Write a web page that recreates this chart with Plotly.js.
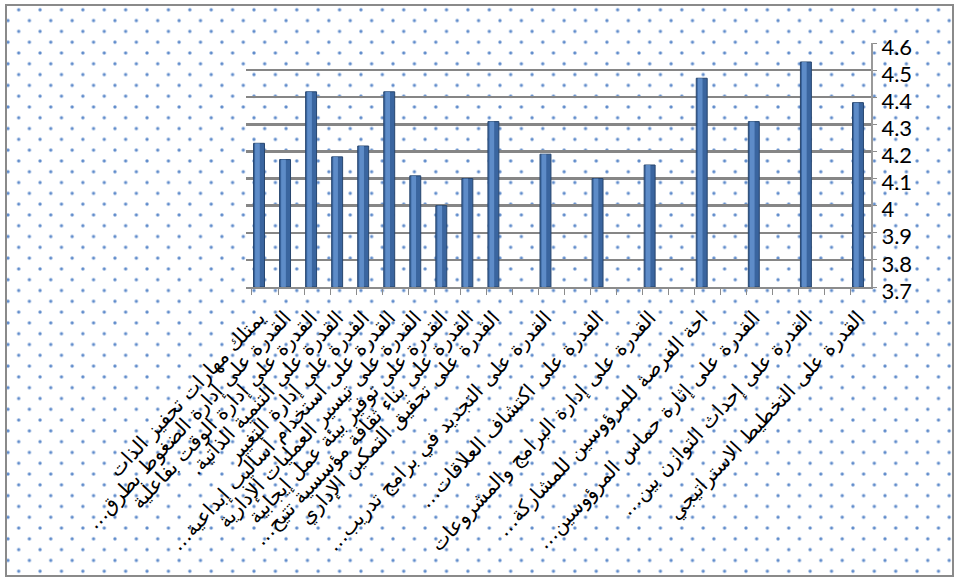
<!DOCTYPE html>
<html>
<head>
<meta charset="utf-8">
<script src="https://cdn.plot.ly/plotly-3.0.1.min.js"></script>
<style>
  html, body { margin: 0; padding: 0; background: #ffffff; }
  #frame {
    position: absolute; left: 5px; top: 4px; width: 949px; height: 573px;
    border: 2px solid #8a8a8a; box-sizing: border-box;
    background-image:
      radial-gradient(circle, rgba(74,124,196,0.95) 0px, rgba(74,124,196,0.85) 1px, rgba(74,124,196,0) 2.2px),
      radial-gradient(circle, rgba(74,124,196,0.95) 0px, rgba(74,124,196,0.85) 1px, rgba(74,124,196,0) 2.2px);
    background-size: 21.4px 21.6px, 21.4px 21.6px;
    background-position: 1px -7px, 11.7px 3.8px;
  }
  #chart { position: absolute; left: 0; top: 0; width: 961px; height: 582px; }
</style>
</head>
<body>
<div id="frame"></div>
<div id="chart"></div>
<script>
// Category labels (Arabic), in order left to right
const categories = [
  "يمتلك مهارات تحفيز الذات",
  "القدرة على إدارة الضغوط بطرق…\u200F",
  "القدرة على إدارة الوقت بفاعلية",
  "القدرة على التنمية الذاتية.\u200F",
  "القدرة على إدارة التغيير",
  "القدرة على استخدام أساليب إبداعية…\u200F",
  "القدرة على تيسير العمليات الإدارية",
  "القدرة على توفير بيئة عمل إيجابية",
  "القدرة على بناء ثقافة مؤسسية تتيح…\u200F",
  "القدرة على تحقيق التمكين الإداري",
  "القدرة على التجديد في برامج تدريب…\u200F",
  "القدرة على اكتشاف العلاقات…\u200F",
  "القدرة على إدارة البرامج والمشروعات",
  "احة الفرصة للمرؤوسين للمشاركة…\u200F",
  "القدرة على إثارة حماس المرؤوسين…\u200F",
  "القدرة على إحداث التوازن بين…\u200F",
  "القدرة على التخطيط الاستراتيجي"
];
// Category slot index on the axis (24 slots, some empty)
const slots = [0,1,2,3,4,5,6,7,8,9,11,13,15,17,19,21,23];
// Mean scores
const values = [4.23, 4.17, 4.42, 4.18, 4.22, 4.42, 4.11, 4.00, 4.10, 4.31,
                4.19, 4.10, 4.15, 4.47, 4.31, 4.53, 4.38];
// Y tick values / labels
const yTicks = [3.7, 3.8, 3.9, 4, 4.1, 4.2, 4.3, 4.4, 4.5, 4.6];
const yTickText = ["3.7", "3.8", "3.9", "4", "4.1", "4.2", "4.3", "4.4", "4.5", "4.6"];

const baseVals = values.map(v => v - 3.7);

const traces = [
  {
    type: 'bar', x: slots, y: baseVals, base: 3.7, width: 0.42,
    marker: { color: '#3a659f', line: { color: '#27466f', width: 1 } },
    hoverinfo: 'skip', showlegend: false
  },
  {
    type: 'bar', x: slots, y: baseVals, base: 3.7, width: 0.18, offset: -0.15,
    marker: { color: '#6a9ad6', line: { width: 0 } },
    opacity: 0.75, hoverinfo: 'skip', showlegend: false
  }
];

const layout = {
  width: 961, height: 582,
  margin: { l: 246, r: 90, t: 43, b: 295, pad: 0 },
  paper_bgcolor: 'rgba(0,0,0,0)',
  plot_bgcolor: 'rgba(0,0,0,0)',
  barmode: 'overlay',
  showlegend: false,
  xaxis: {
    type: 'linear',
    range: [-0.5, 23.5],
    tickmode: 'array',
    tickvals: slots,
    ticktext: categories,
    tickangle: -47,
    ticks: '',
    ticklabelstandoff: 9,
    showgrid: false,
    zeroline: false,
    showline: true, linecolor: '#8c8c8c', linewidth: 2,
    tickfont: { family: 'DejaVu Sans, sans-serif', size: 20, color: '#000000' },
    minor: { tick0: -0.27, dtick: 1, ticks: 'outside', ticklen: 6, tickcolor: '#8c8c8c', tickwidth: 1, showgrid: false }
  },
  yaxis: {
    side: 'right',
    range: [3.7, 4.6],
    tickmode: 'array',
    tickvals: yTicks,
    ticktext: yTickText,
    ticks: 'outside', ticklen: 4, tickcolor: '#8c8c8c',
    ticklabelshift: 4,
    showgrid: true, gridcolor: '#868686', gridwidth: 2.5,
    zeroline: false,
    showline: true, linecolor: '#9a9a9a', linewidth: 2,
    tickfont: { family: 'Lato, "Open Sans", sans-serif', size: 22, color: '#000000' }
  }
};

Plotly.newPlot('chart', traces, layout, { displayModeBar: false, staticPlot: true });
</script>
</body>
</html>
